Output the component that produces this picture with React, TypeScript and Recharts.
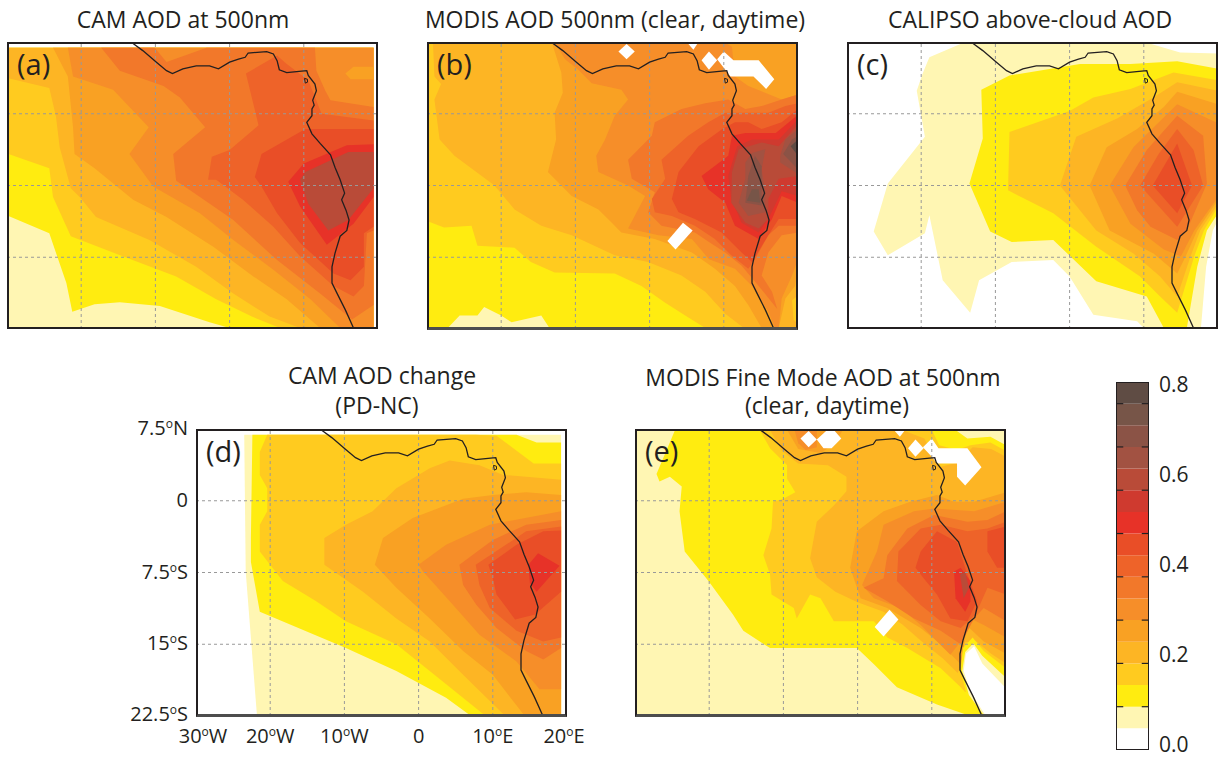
import React from 'react';
import { BarChart, Bar, ScatterChart, Scatter, XAxis, YAxis } from 'recharts';

type LonLat = [number, number];
type Band = { level: number; outline: LonLat[] };

// colour per 0.05 AOD step, low to high
const aodColors = [
  '#ffffff', '#fff6b3', '#ffec10', '#ffcb1f', '#fdb524', '#f9a123', '#f68e29', '#f2782a', '#ee6329',
  '#e94e27', '#e73228', '#cf3a2f', '#b94b38', '#a25242', '#8b5346', '#775548', '#5f4c44',
];
const aodStep = 0.05;
const colorbarEdges = [0.1, 0.2, 0.3, 0.4, 0.5, 0.6, 0.7, 0.8];
const colorbarLabels = [0, 0.2, 0.4, 0.6, 0.8];

const lonGrid = [-20, -10, 0, 10];
const latGrid = [0, -7.5, -15];
const lonTicks = [-30, -20, -10, 0, 10, 20];
const latTicks = [7.5, 0, -7.5, -15, -22.5];

const coastline: LonLat[] = [
  [-13.1, 7.4], [-11.7, 6.6], [-9.9, 5.4], [-8.5, 4.5], [-7.7, 4.2], [-6.3, 4.7], [-4.5, 5.0], [-2.7, 5.0], [-1.5, 4.7],
  [0, 5.4], [1.2, 5.7], [2.1, 5.9], [2.5, 6.35], [5, 6.5], [5.9, 6.25], [6.4, 5.55], [6.7, 4.6], [7.7, 4.3], [9.7, 4.45],
  [10.4, 4.5], [10.6, 4.0], [11.5, 3.1], [11.7, 2.4], [11.2, 1.4], [11.4, 0.9], [11.1, 0.5], [11.1, -0.2], [10.4, -0.9],
  [11.1, -2.1], [12.2, -3.1], [13.6, -4.3], [14.2, -5.6], [14.9, -6.9], [15.5, -8.3], [15.1, -9.0], [15.7, -10.1],
  [16.1, -11.1], [15.8, -12.2], [14.9, -12.8], [14.2, -14.6], [13.8, -16.0], [13.8, -17.7], [14.5, -18.8], [15.6, -20.5],
  [16.7, -22.4],
];
const bioko: LonLat[] = [[10.1, 3.7], [10.5, 3.6], [10.5, 3.3], [10.2, 3.2], [10.1, 3.7]];

const camBands: Band[] = [
  { level: 1, outline: [[-29.8, 6.9], [19.4, 6.9], [19.4, -22.4], [-29.8, -22.4]] },
  { level: 2, outline: [[-29.8, -10.7], [-24.3, -12.5], [-22, -17.7], [-21.2, -20.7], [-18.2, -19.9], [-14.8, -19.7], [-9.4, -20.1], [-2.7, -21.8], [0, -22.4], [19.4, -22.4], [19.4, 6.9], [-29.8, 6.9]] },
  { level: 3, outline: [[-29.8, -4.2], [-24.3, -5.7], [-23.8, -8.7], [-21.4, -12.8], [-14.4, -14.9], [-7.2, -17], [-1.8, -19.4], [3, -21.2], [6.8, -22.4], [19.4, -22.4], [19.4, 6.9], [-29.8, 6.9]] },
  { level: 4, outline: [[-29.8, 3.7], [-24.3, 2.7], [-23.4, -0.3], [-22.9, -3.5], [-21.4, -7.8], [-20.2, -8.7], [-18, -10.8], [-10.8, -13.2], [-4.5, -16], [0.5, -18.8], [5.4, -21.2], [9.5, -22.4], [19.4, -22.4], [19.4, 6.9], [-29.8, 6.9]] },
  { level: 5, outline: [[-23.8, 6.9], [-21.8, 3.9], [-21.1, -1.4], [-20.9, -4.2], [-18.2, -5.7], [-13, -9], [-8.5, -10.8], [-2.2, -13.9], [3.2, -17], [7.7, -19.4], [12.2, -22.4], [19.4, -22.4], [19.4, 6.9]] },
  { level: 6, outline: [[-21.8, 6.9], [-21.1, 3.9], [-15.7, 2.5], [-10.9, -1.4], [-13.5, -4.2], [-10.3, -7.6], [-4, -10.4], [0.5, -13.2], [5.9, -16.3], [10.9, -19.4], [14.9, -22.4], [19.4, -22.4], [19.4, 6.9]] },
  { level: 7, outline: [[-17.3, 6.9], [-14.8, 4.5], [-8.9, 2.9], [-6.7, 1.7], [-3.3, -1.4], [-7.6, -4.2], [-7.2, -7], [-4, -8.7], [0.5, -11.1], [6.4, -15.3], [12.2, -18.8], [16.5, -21.5], [19.4, -20], [19.4, 0.7], [13.6, 1.4], [12.9, 2.4], [11.7, 4.5], [11.5, 6.9], [-3.1, 6.9], [-8.5, 5.4], [-10.1, 6.9]] },
  { level: 5, outline: [[15.6, 4.2], [16.7, 4.9], [19.4, 4.9], [19.4, 3.6], [16.3, 3.6]] },
  { level: 8, outline: [[-2.9, -6.9], [-2.4, -4.5], [0, -3.8], [3.9, -1.2], [2.2, 4.2], [6.4, 6.1], [7.7, 5.2], [10.6, 3.5], [12.4, 0], [19.4, -0.7], [19.4, -12.2], [18.5, -12.5], [18.1, -18], [16.7, -19.1], [14, -18], [9.5, -14.9], [5.9, -11.8], [1.8, -9], [-1.8, -6.9]] },
  { level: 9, outline: [[3.4, -6.6], [4.3, -4.2], [10.2, -1.6], [19.4, -1.6], [19.4, -11.8], [18.1, -12.5], [18.1, -16], [16.3, -17.4], [14, -16.7], [9.5, -13.5], [6.4, -10.4], [4.3, -7.6]] },
  { level: 10, outline: [[7.9, -7.1], [10, -5.2], [15.8, -3.3], [19.4, -3.2], [19.4, -8.7], [16.7, -11.5], [13.1, -13.7], [9.5, -9.7]] },
  { level: 12, outline: [[9.5, -6.9], [10.2, -6.1], [16, -4], [19.4, -4], [19.4, -7.8], [16, -11.1], [13.3, -12.2], [10.6, -9.4]] },
];

const modisBands: Band[] = [
  { level: 2, outline: [[-30, 7.5], [20, 7.5], [20, -22.4], [-30, -22.4]] },
  { level: 1, outline: [[-27.2, -22.4], [-25.6, -21.1], [-23.2, -21.1], [-22.3, -20.2], [-20, -21.1], [-18.6, -21.8], [-14.6, -21.1], [-13.5, -22.4]] },
  { level: 3, outline: [[-30, -11.2], [-27.7, -11.9], [-24, -11.7], [-23.2, -13.8], [-18.2, -14], [-16, -15.5], [-12.8, -16.6], [-4.7, -16.7], [-1.1, -18], [2, -19.7], [4.8, -21.1], [7.5, -22.4], [20, -22.4], [20, 7.5], [-30, 7.5]] },
  { level: 4, outline: [[-29.2, 7.5], [-29, 3.9], [-28.1, 3.1], [-29, 1.5], [-28.3, -2.7], [-26.3, -4.4], [-20.9, -7.5], [-18.2, -10], [-14.6, -11.7], [-10.5, -12.7], [-4.7, -14.8], [-0.2, -15.5], [4.3, -16.9], [7.5, -18.6], [10.2, -20.9], [12.7, -22.4], [20, -22.4], [20, 7.5]] },
  { level: 3, outline: [[19.2, -19.5], [20, -19], [20, -22], [19.4, -21.5]] },
  { level: 5, outline: [[-13.2, 7.5], [-11.9, 4.3], [-11.7, 2.2], [-12.8, 0.1], [-12.6, -2.7], [-13.7, -6.1], [-10.5, -8.6], [-6.9, -10], [-5.1, -11.4], [-3.8, -12.4], [0.7, -13.1], [5.7, -14.5], [8.8, -16.2], [11.5, -18], [13.3, -20], [15.1, -22.4], [17.4, -22.4], [18.3, -19.3], [19.6, -18], [20, -15.5], [20, 7.5]] },
  { level: 6, outline: [[-12.8, 7.5], [-11.4, 5.7], [-9.6, 4.6], [-7.8, 3.2], [-3.8, 2.5], [-2.9, 1.5], [-4.7, -0.2], [-6, -2.7], [-7.2, -4.4], [-6.9, -6.1], [-2.9, -7.5], [-0.6, -8.6], [-2.9, -12], [1.2, -12.7], [5.7, -13.1], [8, -15.2], [11.5, -16.2], [13.8, -18], [16, -20.7], [16.9, -22.4], [17.4, -22.4], [17.8, -19.3], [19.2, -16.9], [20, -15.2], [20, 2], [17.8, 1.5], [13.3, 2.9], [11.5, 3.9], [11.1, 7], [10, 7.5]] },
  { level: 7, outline: [[-2.9, -4.8], [0.3, -2.3], [0.7, -0.9], [4.3, 0.5], [7.5, 1.1], [10.6, 1.5], [12.9, 0.5], [15.1, 0.8], [17.8, 1.5], [20, 2], [20, -12.4], [17.8, -12.7], [16, -14.5], [15.1, -16.9], [16.5, -18.6], [17.2, -20.4], [14.7, -18], [12.4, -15.9], [10.2, -14.5], [8, -13.4], [6.1, -12.4], [1.6, -11.7], [-0.2, -10.3], [0.7, -8.2], [-2.4, -6.8]] },
  { level: 8, outline: [[0.3, -8.9], [2.1, -6.8], [1.6, -4.8], [5.2, -2.3], [7.9, -0.9], [10.2, 0.1], [12.9, 0.1], [16, 0.1], [18.3, 0.8], [20, 1.1], [20, -11.7], [17.4, -11.7], [16, -12.7], [14.2, -15.2], [13.3, -16.2], [11, -14.8], [8.8, -13.1], [6.1, -11.7], [3, -10.7], [0.7, -10.3]] },
  { level: 9, outline: [[3, -8.9], [3.9, -6.1], [6.6, -3.4], [9.8, -1.6], [11.5, -0.9], [13.3, -0.9], [15.1, -1.6], [17.8, -0.9], [20, 0.5], [20, -11], [17.4, -11], [16, -12.7], [13.8, -15.5], [12.4, -14.5], [9.7, -12.4], [6.1, -11], [3.9, -10.3]] },
  { level: 10, outline: [[7, -6.5], [10.6, -4.4], [11.1, -2.3], [12.9, -2], [17, -2], [20, -0.1], [20, -9.3], [17.8, -8.6], [16.5, -11], [14.7, -13.1], [11.5, -11.7], [10.2, -9.3], [7.9, -7.9]] },
  { level: 11, outline: [[10.6, -6.5], [11.8, -3.4], [13.8, -2.7], [17.4, -2.7], [20, -0.6], [20, -8.6], [17.8, -8.1], [16, -11], [14.7, -12.4], [12.4, -11.4], [11, -8.9]] },
  { level: 12, outline: [[11.1, -6.1], [12, -3.7], [15.1, -3], [17.4, -3.4], [20, -1.1], [20, -6.5], [17.4, -6.8], [16, -8.9], [16, -11], [14.7, -12], [12.9, -11.4], [11, -9.3]] },
  { level: 13, outline: [[12.9, -5.1], [13.8, -4.1], [15.6, -3.7], [15.1, -5.8], [15.6, -8.2], [15.6, -10.3], [13.3, -10.7], [12, -9.3], [12.9, -6.8]] },
  { level: 13, outline: [[17.6, -4.4], [18.3, -2.7], [20, -1.6], [20, -6.3], [17.6, -5.1]] },
  { level: 14, outline: [[13.3, -6.5], [14.2, -4.4], [15.1, -5.5], [15.1, -8.2], [15.1, -9.6], [12.9, -9.3]] },
  { level: 14, outline: [[18, -4.2], [19.2, -2.7], [20, -2.3], [20, -5.8]] },
  { level: 15, outline: [[13.8, -7.9], [14.7, -7.9], [14.9, -9.3], [13.1, -9.1]] },
  { level: 16, outline: [[19, -3.4], [20, -2.7], [20, -4.4]] },
  { level: 0, outline: [[-4.2, 6.5], [-3.1, 7.3], [-2, 6.5], [-3.1, 5.7]] },
  { level: 0, outline: [[5, 7.5], [5.9, 6.7], [6.6, 7.5]] },
  { level: 0, outline: [[7, 5.6], [8, 6.5], [9.1, 5.6], [8, 4.6]] },
  { level: 0, outline: [[9.1, 5.7], [10, 6.5], [11.3, 5.6], [14.7, 5.6], [16.8, 3.6], [15.7, 2.6], [14, 3.9], [10.9, 3.9], [10.2, 4.6]] },
  { level: 0, outline: [[4.5, -11.4], [5.8, -12.2], [3.5, -14.2], [2.4, -13.3]] },
];

const calipsoBands: Band[] = [
  { level: 1, outline: [[-14.4, 7.4], [-18.9, 5.9], [-19.8, 4.2], [-20.6, 2.4], [-19.5, -2.4], [-24.5, -7.3], [-26.4, -12.3], [-24.5, -14.8], [-19.5, -12.5], [-18.9, -10.6], [-17.1, -17.4], [-13.4, -20.8], [-12.2, -17.4], [-7.8, -15.5], [-2.2, -15.3], [0, -17], [3.2, -21], [9.1, -21.7], [10, -22.4], [17.7, -22.4], [18.4, -16], [19.3, -12.2], [20, -11.1], [20, 6.3], [14.9, 6.4], [11, 7.3], [10.4, 7.4]] },
  { level: 2, outline: [[-11.9, 2.5], [-8.1, 4], [1.4, 5.2], [8.2, 5.2], [14.5, 5.5], [20, 4.7], [20, -10.4], [18.5, -12.2], [17.2, -16], [15.8, -22.4], [12.7, -22.4], [10.4, -19.1], [3.6, -17.5], [-2.2, -13.2], [-7.8, -13.4], [-10.7, -12.3], [-13.5, -7.3], [-11.7, -2.6]] },
  { level: 3, outline: [[-8.1, -1.9], [0, 0.3], [3.2, 1.7], [8.2, 2.6], [14, 4.3], [20, 3.5], [20, -9.7], [18.1, -12.2], [16.8, -14.9], [14.5, -20.8], [12.2, -19.1], [9.5, -17], [3.6, -13.9], [-2.2, -10.4], [-5.8, -9], [-8.3, -8]] },
  { level: 4, outline: [[-1.3, -7.5], [0.9, -2.4], [6.4, -0.5], [11.3, 1.7], [14.5, 3.3], [20, 2.4], [20, -9.4], [17.6, -12.2], [16.3, -14.9], [14.5, -19.1], [12.2, -17], [8.6, -14.6], [3.6, -12.2]] },
  { level: 5, outline: [[2.7, -7.5], [5, -3.5], [9.1, -1.6], [12.7, 0.7], [14.5, 2.3], [20, 1], [20, -9], [17.2, -12.2], [15.4, -15.3], [14.5, -16.7], [11.3, -14.6], [5.4, -12.2]] },
  { level: 6, outline: [[5.4, -7.5], [8.6, -3.5], [14.5, 1], [20, -1], [20, -8.7], [16.8, -12.2], [15, -14.9], [12.7, -14.2], [8.2, -11.5]] },
  { level: 7, outline: [[7.5, -7.5], [10.4, -3.8], [14.5, -0.2], [18, -2.3], [18.5, -7.3], [15.8, -12.2], [14.5, -13.2], [10.9, -11.8], [9.1, -10.1]] },
  { level: 8, outline: [[9.5, -7.5], [12, -4.2], [14.5, -1.6], [16.7, -3.8], [18, -7.5], [14.5, -11.8]] },
  { level: 9, outline: [[11.2, -7.5], [14.5, -3.1], [16.5, -7.5], [14.5, -10.4]] },
];

const changeBands: Band[] = [
  { level: 1, outline: [[-23.5, 6.9], [19.2, 6.9], [19.2, -22.3], [-21.8, -22.3], [-23.3, -7.4]] },
  { level: 2, outline: [[-22.4, 6.9], [-22.6, -3.9], [-22.6, -6.4], [-21.4, -11.6], [-9.8, -15.4], [-3, -17.8], [3.7, -20.6], [6.7, -22.3], [19.2, -22.3], [19.2, 6.1], [15.9, 6.1], [13.2, 6.9]] },
  { level: 3, outline: [[-20.4, 6.9], [-21.4, 5.1], [-21.4, 2.7], [-20.4, 1.3], [-20.4, -1.1], [-21.4, -2.5], [-21.4, -5.3], [-18.3, -8.4], [-13.8, -10.5], [-9.8, -12.6], [-3, -15], [1.5, -17.8], [8.7, -22.3], [19.2, -22.3], [19.2, 3.9], [15.5, 3.9], [10.5, 6.8], [7.7, 6.9]] },
  { level: 4, outline: [[-12.7, -3.9], [-9.8, -2.5], [-6.2, -1.1], [-3, 1.3], [1.5, 3.4], [4.2, 4.2], [8.2, 3.7], [11.4, 2.7], [14.5, 2.5], [19.2, 2.2], [19.2, -22.3], [11.4, -22.3], [6, -18.2], [1.5, -14.7], [-3, -12.3], [-7.5, -9.5], [-12.7, -6.7]] },
  { level: 5, outline: [[-5.9, -6.7], [-4.8, -3.9], [-0.8, -1.8], [6, 0.2], [10, 0.6], [14.5, 0.9], [19.2, 0.6], [19.2, -22.3], [14.1, -22.3], [10, -18.2], [6, -15.7], [1.5, -12.3], [-3, -9.1]] },
  { level: 6, outline: [[0, -6.7], [3.7, -4.6], [9.6, -2.5], [19.2, -1.1], [19.2, -19.7], [16.3, -19.7], [13.2, -16.8], [8.2, -14], [4.2, -10.5], [0.6, -7.4]] },
  { level: 7, outline: [[5.5, -6.7], [10, -4.1], [14.5, -2.5], [19.2, -2], [19.2, -15.4], [16.8, -16.6], [14.5, -15.7], [10.5, -13.3], [7.8, -10.9], [6, -8.8]] },
  { level: 8, outline: [[7.7, -6.7], [11, -5], [14.5, -3.2], [19.2, -2.7], [19.2, -14.3], [16.8, -14.7], [13.2, -13.6], [9.6, -11.2], [8.2, -8.8]] },
  { level: 9, outline: [[9.4, -6.7], [13.2, -4.6], [16.8, -3.2], [19.2, -3.1], [19.2, -9.5], [15.7, -11.9], [13, -12.4], [10.5, -9.8], [10, -8.1]] },
  { level: 10, outline: [[14.8, -6.7], [16.1, -5.5], [19, -6.8], [15.9, -9.5], [15, -8.6]] },
];

const fineModeBands: Band[] = [
  { level: 1, outline: [[-30, 7.5], [20, 7.5], [20, -22.4], [-30, -22.4]] },
  { level: 2, outline: [[-24.6, 7.4], [-27.1, 2.8], [-26.7, 2], [-25.3, 2.5], [-23.7, 1.5], [-24, -1.1], [-23.3, -5.3], [-20.1, -8.4], [-16.8, -11.9], [-15.4, -13.6], [-11.8, -15.4], [-5, -15.4], [-0.1, -15.4], [2.2, -17.1], [5.3, -19.5], [10.7, -21.3], [14.8, -22.4], [20, -22.4], [20, 5.8], [17.9, 6.7], [14.8, 6.5], [13.2, 7.4]] },
  { level: 3, outline: [[-13.2, 7.4], [-11.8, 5.5], [-9.5, 3.7], [-9.5, 2.3], [-8.4, 0.9], [-10, 0.2], [-11.4, -0.1], [-11.6, -2.9], [-12.7, -5.7], [-11.8, -7.7], [-11.6, -9.8], [-8.6, -11.2], [-8.2, -12.3], [-6.4, -9.8], [-5, -10.2], [-3.2, -12.6], [2.2, -12.6], [4, -14.3], [6.7, -15.4], [11.2, -17.5], [13.9, -19.5], [14.5, -20], [20, -20], [20, 5.2], [17.9, 6.1], [15.2, 5.8], [13.4, 5.3], [11, 5.8], [10, 7.4]] },
  { level: 4, outline: [[-11.8, 7.4], [-10.3, 5.3], [-8, 3.9], [-4, 3.7], [-1.5, 2.5], [-1.5, 1], [-3.2, -0.5], [-5.5, -2.2], [-6.4, -6], [-5.5, -8], [-3, -9.5], [0, -10.6], [3.5, -11.6], [6, -12.9], [8.5, -14.6], [11.5, -16.5], [13.5, -18], [14, -17], [14.3, -14.8], [16, -14.7], [18, -16], [20, -17], [20, 4.6], [18, 5.4], [15.5, 5.6], [13.5, 4], [11, 3.5], [10, 5], [9, 6.5], [6, 7.4]] },
  { level: 5, outline: [[-1, -7], [-0.1, -3.2], [3.5, -1.1], [7.1, -0.1], [10.7, 0.6], [13, -0.1], [15.7, -0.1], [20, 0.9], [20, -16], [17, -14.7], [14.8, -13.1], [13.9, -17.1], [11.2, -15], [8.5, -13.3], [4, -11.2], [0.4, -10.2]] },
  { level: 5, outline: [[-9.5, 7.4], [-8, 5.4], [-5, 5], [-3, 6], [-2, 7.4]] },
  { level: 6, outline: [[0.6, -8.8], [2.6, -5.3], [3.5, -2.5], [7.6, -1.1], [10.3, -0.8], [15.7, -1.1], [20, -0.1], [20, -14.3], [17, -13], [15.2, -12.3], [14.3, -14.3], [12.5, -16.1], [8.5, -13], [5.8, -11.2], [2.2, -10.2]] },
  { level: 6, outline: [[-8.5, 7.4], [-8, 6], [-7, 5.3], [-5.5, 5.6], [-5.5, 7.4]] },
  { level: 7, outline: [[0.8, -9.1], [3.5, -8.1], [4, -5.7], [6.7, -2.9], [10.3, -1.5], [14.8, -2.2], [17.5, -2], [20, -1.1], [20, -12.6], [17, -11.2], [15.7, -12.3], [13.9, -15], [11.2, -13.6], [7.6, -12.3], [4, -10.5]] },
  { level: 8, outline: [[5.3, -8.4], [5.5, -5.3], [8.5, -2.9], [11.2, -2.5], [14.8, -3.2], [17.5, -2.9], [20, -2.2], [20, -9.8], [17.5, -9.1], [15.9, -11.9], [13.9, -13.3], [11.2, -12.6], [8.5, -10.9]] },
  { level: 9, outline: [[7.8, -7], [8.5, -5.3], [10.7, -3.2], [13.4, -4.3], [14.5, -7], [16.1, -10.5], [14.8, -12.6], [12.5, -12.3], [10.7, -9.8], [8.9, -8.1]] },
  { level: 9, outline: [[17.5, -5.3], [17.5, -3.2], [20, -2.7], [20, -7], [18.8, -7]] },
  { level: 10, outline: [[13, -7.4], [13.9, -7], [15.2, -8.4], [15.2, -10.5], [14.5, -11.6], [13.2, -10.2]] },
  { level: 12, outline: [[13.8, -7.7], [14.5, -7.4], [15, -9.1], [14.3, -10.2]] },
  { level: 2, outline: [[14.2, -15.4], [15.5, -14.3], [17, -15.7], [20, -17.5], [20, -22.4], [16.8, -22.4], [14.8, -20.6], [13.9, -17.8]] },
  { level: 1, outline: [[14.5, -15.8], [15.6, -14.9], [16.8, -16.2], [20, -18.5], [20, -22.4], [17, -22.4], [15, -20.3], [14.1, -17.8]] },
  { level: 0, outline: [[14.6, -16], [15.7, -15.2], [16.8, -17], [20, -19.6], [20, -22.4], [17.2, -22.4], [15.2, -20], [14.3, -17.8]] },
  { level: 0, outline: [[-7.7, 6.5], [-6.6, 7.3], [-5.5, 6.4], [-4.1, 7.4], [-3.2, 7.4], [-2.2, 6.5], [-3.5, 5.5], [-4.6, 5.5], [-5.5, 6.4], [-6.6, 5.6]] },
  { level: 0, outline: [[4.9, 7.4], [5.7, 6.7], [6.4, 7.4]] },
  { level: 0, outline: [[6.8, 5.5], [7.8, 6.4], [8.9, 5.5], [7.8, 4.6]] },
  { level: 0, outline: [[8.8, 5.6], [10, 6.5], [10.9, 5.5], [14.8, 5.5], [16.7, 3.5], [14.5, 1.6], [13.4, 2.5], [13.4, 3.9], [10.7, 3.9], [10, 4.6]] },
  { level: 0, outline: [[4.3, -11.4], [5.5, -12.4], [3.5, -14.2], [2.3, -13.2]] },
];

const ink = '#231f20';
const fontFamily = '"Open Sans", sans-serif';
const plotW = 371;
const plotH = 287;
const tickFont = 20;
const padY = 18;

const toPoints = (pts: LonLat[]) => pts.map(([x, y]) => ({ x, y }));
const NoPoint = () => <g />;

const degreeLabel = (v: number, east: string, west: string) => {
  if (v === 0) return { num: '0', hemi: '' };
  return { num: String(Math.abs(v)), hemi: v > 0 ? east : west };
};

const LonTick = ({ x, y, payload }: any) => {
  const { num, hemi } = degreeLabel(payload.value, 'E', 'W');
  const nudge = payload.value === -30 ? 7 : payload.value === 20 ? -3 : 0;
  return (
    <text x={x + nudge} y={y + 19} textAnchor="middle" fontSize={tickFont} fill={ink} fontFamily={fontFamily}>
      {num}
      {hemi && <tspan fontSize={12} dy={-7}>o</tspan>}
      {hemi && <tspan dy={7}>{hemi}</tspan>}
    </text>
  );
};

const LatTick = ({ x, y, payload }: any) => {
  const { num, hemi } = degreeLabel(payload.value, 'N', 'S');
  return (
    <text x={x} y={y + (payload.value === -22.5 ? 5 : 6)} textAnchor="end" fontSize={tickFont} fill={ink} fontFamily={fontFamily}>
      {num}
      {hemi && <tspan fontSize={12} dy={-7}>o</tspan>}
      {hemi && <tspan dy={7}>{hemi}</tspan>}
    </text>
  );
};

const gridStroke = { stroke: '#999999', strokeWidth: 1, strokeDasharray: '3 3', fill: 'none' };

const MapPanel = ({ left, top, bands, letter, withAxes = false, bottomEdge = 2 }: { left: number; top: number; bands: Band[]; letter: string; withAxes?: boolean; bottomEdge?: number }) => {
  const yAxisWidth = withAxes ? 66 : 0;
  const xAxisHeight = withAxes ? 34 : 0;
  const rightPad = withAxes ? 20 : 0;
  return (
    <>
      <div style={{ position: 'absolute', left: left - yAxisWidth, top: top - padY }}>
        <ScatterChart width={plotW + yAxisWidth + rightPad} height={plotH + xAxisHeight + padY} margin={{ top: padY, right: rightPad, bottom: 0, left: 0 }}>
          <XAxis
            type="number"
            dataKey="x"
            domain={[-30, 20]}
            ticks={lonTicks}
            interval={0}
            hide={!withAxes}
            height={xAxisHeight}
            axisLine={false}
            tickLine={false}
            tick={<LonTick />}
          />
          <YAxis
            type="number"
            dataKey="y"
            domain={[-22.5, 7.5]}
            ticks={latTicks}
            interval={0}
            hide={!withAxes}
            width={yAxisWidth}
            axisLine={false}
            tickLine={false}
            tick={<LatTick />}
          />
          {bands.map((band, i) => (
            <Scatter
              key={i}
              data={toPoints(band.outline)}
              line={{ fill: aodColors[band.level], stroke: 'none' }}
              shape={NoPoint}
              isAnimationActive={false}
            />
          ))}
          {lonGrid.map((lon) => (
            <Scatter key={`lon${lon}`} data={[{ x: lon, y: -22.5 }, { x: lon, y: 7.5 }]} line={gridStroke} shape={NoPoint} isAnimationActive={false} />
          ))}
          {latGrid.map((lat) => (
            <Scatter key={`lat${lat}`} data={[{ x: -30, y: lat }, { x: 20, y: lat }]} line={gridStroke} shape={NoPoint} isAnimationActive={false} />
          ))}
          <Scatter data={toPoints(coastline)} line={{ stroke: ink, strokeWidth: 1.3, fill: 'none' }} shape={NoPoint} isAnimationActive={false} />
          <Scatter data={toPoints(bioko)} line={{ stroke: ink, strokeWidth: 1, fill: 'none' }} shape={NoPoint} isAnimationActive={false} />
        </ScatterChart>
      </div>
      <div
        style={{
          position: 'absolute',
          left,
          top,
          width: plotW,
          height: plotH + bottomEdge - 2,
          boxSizing: 'border-box',
          border: `2px solid ${ink}`,
          borderBottomWidth: bottomEdge,
          borderBottomColor: bottomEdge > 2 ? '#4d4d4d' : ink,
          pointerEvents: 'none',
        }}
      />
      <div style={{ position: 'absolute', left: left + 10, top: top + 2, fontSize: 29, lineHeight: '40px', color: ink, fontFamily }}>{letter}</div>
    </>
  );
};

const Title = ({ x, y, text }: { x: number; y: number; text: string }) => (
  <div style={{ position: 'absolute', left: x - 250, width: 500, top: y - 13, lineHeight: '26px', textAlign: 'center', whiteSpace: 'nowrap', fontSize: 23, color: ink, fontFamily }}>
    {text}
  </div>
);

const tickStroke = { stroke: ink, strokeWidth: 1.2, fill: 'none' };

const Colorbar = () => {
  const row: Record<string, string | number> = { name: 'aod' };
  aodColors.forEach((_, i) => {
    row[`band${i}`] = aodStep;
  });
  const chartW = 33;
  const chartH = 368;
  return (
    <>
      <div style={{ position: 'absolute', left: 1116, top: 382 }}>
        <BarChart width={chartW} height={chartH} data={[row]} margin={{ top: 0, right: 0, bottom: 0, left: 0 }} barCategoryGap={0}>
          <XAxis dataKey="name" hide />
          <YAxis yAxisId="bands" type="number" domain={[0, 0.85]} hide />
          {aodColors.map((color, i) => (
            <Bar key={i} yAxisId="bands" dataKey={`band${i}`} stackId="aod" fill={color} isAnimationActive={false} />
          ))}
        </BarChart>
      </div>
      {/* tick marks sit over the bars, so they get their own chart on the same scale */}
      <div style={{ position: 'absolute', left: 1116, top: 382 }}>
        <ScatterChart width={chartW} height={chartH} margin={{ top: 0, right: 0, bottom: 0, left: 0 }}>
          <XAxis type="number" dataKey="x" domain={[0, 1]} hide />
          <YAxis type="number" dataKey="y" domain={[0, 0.85]} hide />
          {colorbarEdges.map((edge) => (
            <Scatter key={`l${edge}`} data={[{ x: 0, y: edge }, { x: 0.22, y: edge }]} line={tickStroke} shape={NoPoint} isAnimationActive={false} />
          ))}
          {colorbarEdges.map((edge) => (
            <Scatter key={`r${edge}`} data={[{ x: 0.78, y: edge }, { x: 1, y: edge }]} line={tickStroke} shape={NoPoint} isAnimationActive={false} />
          ))}
        </ScatterChart>
      </div>
      <div style={{ position: 'absolute', left: 1116, top: 382 - padY }}>
        <BarChart width={chartW + 80} height={chartH + 2 * padY} data={[row]} margin={{ top: padY, right: 0, bottom: padY, left: 0 }}>
          <XAxis dataKey="name" hide />
          <YAxis
            yAxisId="labels"
            orientation="right"
            type="number"
            domain={[-0.0111, 0.8067]}
            ticks={colorbarLabels}
            interval={0}
            allowDataOverflow
            width={80}
            axisLine={false}
            tickLine={false}
            tick={{ fontSize: 21, fill: ink, fontFamily, textAnchor: 'start', dx: 2 }}
            tickFormatter={(v: number) => v.toFixed(1)}
          />
        </BarChart>
      </div>
      <div style={{ position: 'absolute', left: 1116, top: 382, width: 33, height: 368, boxSizing: 'border-box', border: `1.5px solid ${ink}`, pointerEvents: 'none' }} />
    </>
  );
};

export default function App() {
  return (
    <div style={{ position: 'absolute', left: 0, top: 0, width: 1225, height: 757, background: '#fff', overflow: 'hidden' }}>
      <Title x={183} y={19} text="CAM AOD at 500nm" />
      <Title x={615} y={19} text="MODIS AOD 500nm (clear, daytime)" />
      <Title x={1030} y={19} text="CALIPSO above-cloud AOD" />
      <Title x={382} y={375} text="CAM AOD change" />
      <Title x={377} y={405} text="(PD-NC)" />
      <Title x={823} y={377} text="MODIS Fine Mode AOD at 500nm" />
      <Title x={827} y={405} text="(clear, daytime)" />
      <MapPanel left={7} top={42} bands={camBands} letter="(a)" />
      <MapPanel left={427} top={42} bands={modisBands} letter="(b)" bottomEdge={3} />
      <MapPanel left={847} top={42} bands={calipsoBands} letter="(c)" />
      <MapPanel left={196} top={429} bands={changeBands} letter="(d)" withAxes bottomEdge={3} />
      <MapPanel left={635} top={429} bands={fineModeBands} letter="(e)" bottomEdge={3} />
      <Colorbar />
    </div>
  );
}
